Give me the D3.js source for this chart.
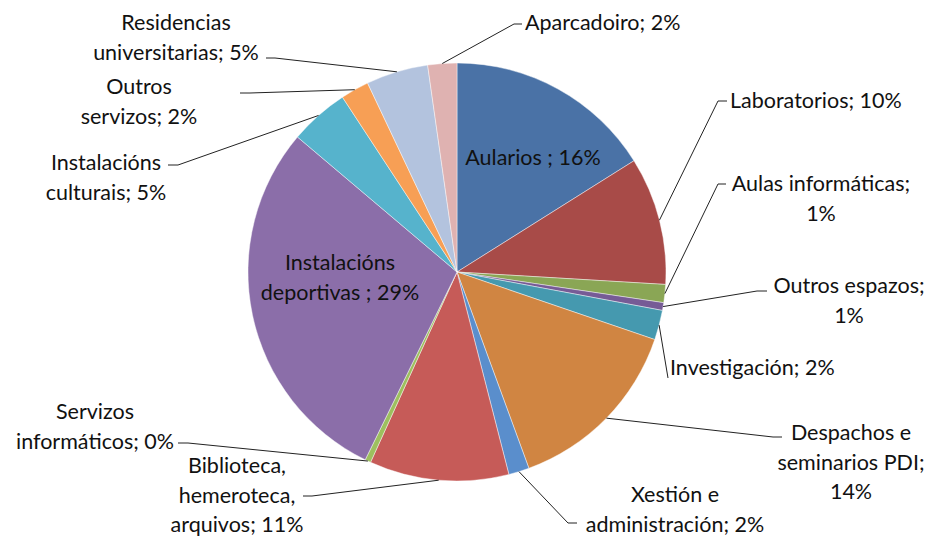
<!DOCTYPE html>
<html>
<head>
<meta charset="utf-8">
<script src="https://cdn.jsdelivr.net/npm/d3@7"></script>
<style>
  html, body { margin: 0; padding: 0; background: #fff; }
  svg { display: block; }
  text { font-family: Lato, "Open Sans", sans-serif; font-size: 21.5px; fill: #111; }
</style>
</head>
<body>
<svg id="chart" width="931" height="537"></svg>
<script>
// ---- data ----
const categories = [
  "Aularios", "Laboratorios", "Aulas informáticas", "Outros espazos", "Investigación",
  "Despachos e seminarios PDI", "Xestión e administración", "Biblioteca, hemeroteca, arquivos",
  "Servizos informáticos", "Instalacións deportivas", "Instalacións culturais",
  "Outros servizos", "Residencias universitarias", "Aparcadoiro"
];
const values = [16.1, 9.9, 1.4, 0.6, 2.3, 14.2, 1.6, 10.8, 0.45, 29.0, 4.6, 2.2, 4.8, 2.25];
// label lines; {p} is replaced by the rounded percentage
const labelLines = [
  ["Aularios ; {p}"],
  ["Laboratorios; {p}"],
  ["Aulas informáticas;", "{p}"],
  ["Outros espazos;", "{p}"],
  ["Investigación; {p}"],
  ["Despachos e", "seminarios PDI;", "{p}"],
  ["Xestión e", "administración; {p}"],
  ["Biblioteca,", "hemeroteca,", "arquivos; {p}"],
  ["Servizos", "informáticos; {p}"],
  ["Instalacións", "deportivas ; {p}"],
  ["Instalacións", "culturais; {p}"],
  ["Outros", "servizos; {p}"],
  ["Residencias", "universitarias; {p}"],
  ["Aparcadoiro; {p}"]
];
const colors = [
  "#4A72A6", "#A84B48", "#8AA655", "#765B96", "#4599AF", "#D08542", "#5A8ECC",
  "#C65B58", "#9DC05E", "#8B6EA9", "#56B3CC", "#F79F55", "#B3C3DE", "#DFB2B1"
];

// ---- layout (positions, not data) ----
const cx = 457, cy = 272, R = 209;
const labelLayout = [
  { anchor: "middle", x: 533, y: 157, leader: null },
  { anchor: "start", x: 730, y: 100, leader: [[718, 101], [727, 101]] },
  { anchor: "middle", x: 821, y: 183, leader: [[718, 184], [726, 184]] },
  { anchor: "middle", x: 849, y: 285, leader: [[757, 291], [767, 291]] },
  { anchor: "start", x: 670, y: 367, leader: [[668, 378]] },
  { anchor: "middle", x: 851, y: 432, leader: [[773, 437], [782, 437]] },
  { anchor: "middle", x: 675, y: 494, leader: [[568, 523], [577, 523]] },
  { anchor: "middle", x: 237, y: 465, leader: [[312, 496], [303, 496]] },
  { anchor: "middle", x: 95, y: 411, leader: [[188, 443], [178, 443]] },
  { anchor: "middle", x: 340, y: 262, leader: null },
  { anchor: "middle", x: 106, y: 162, leader: [[178, 165], [168, 165]] },
  { anchor: "middle", x: 139, y: 86, leader: [[250, 93], [240, 93]] },
  { anchor: "middle", x: 176, y: 22, leader: [[275, 58], [266, 58]] },
  { anchor: "start", x: 525, y: 22, leader: [[514, 24], [522, 24]] }
];
const lineGap = 29.5;

const svg = d3.select("#chart");
const total = d3.sum(values);
const data = categories.map((c, i) => ({ name: c, value: values[i], i }));

const pie = d3.pie().value(d => d.value).sort(null).startAngle(0).endAngle(2 * Math.PI);
const arcs = pie(data);
const arc = d3.arc().innerRadius(0).outerRadius(R);

const g = svg.append("g").attr("transform", `translate(${cx},${cy})`);
g.selectAll("path.slice")
  .data(arcs)
  .enter().append("path")
  .attr("class", "slice")
  .attr("d", arc)
  .attr("fill", d => colors[d.data.i])
  .attr("stroke", "rgba(255,255,255,0.55)")
  .attr("stroke-width", 0.8);

// leader lines
const line = d3.line();
arcs.forEach(a => {
  const lay = labelLayout[a.data.i];
  if (!lay.leader) return;
  const mid = (a.startAngle + a.endAngle) / 2;
  const p0 = [cx + R * Math.sin(mid), cy - R * Math.cos(mid)];
  svg.append("path")
    .attr("d", line([p0, ...lay.leader]))
    .attr("fill", "none")
    .attr("stroke", "#222")
    .attr("stroke-width", 1);
});

// labels
arcs.forEach(a => {
  const i = a.data.i;
  const lay = labelLayout[i];
  const pct = Math.round(a.data.value / total * 100) + "%";
  const t = svg.append("text")
    .attr("text-anchor", lay.anchor)
    .attr("dominant-baseline", "central");
  labelLines[i].forEach((ln, k) => {
    t.append("tspan")
      .attr("x", lay.x)
      .attr("y", lay.y + k * lineGap)
      .text(ln.replace("{p}", pct));
  });
});
</script>
</body>
</html>
